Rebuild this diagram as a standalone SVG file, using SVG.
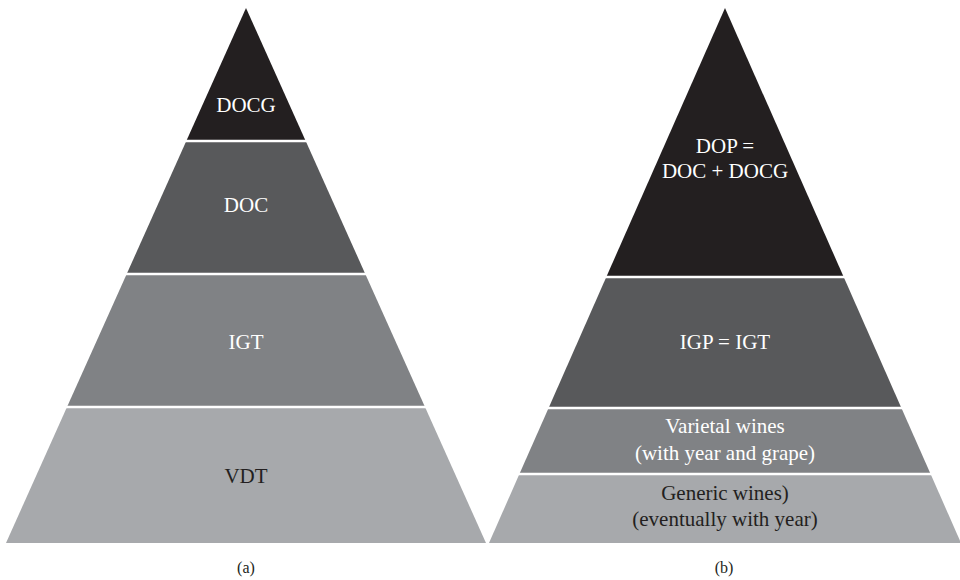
<svg xmlns="http://www.w3.org/2000/svg" width="960" height="580" viewBox="0 0 960 580">
<style>
.t{font-family:"Liberation Serif","Times New Roman",serif;font-size:21px;text-anchor:middle}
.w{fill:#ffffff}
.k{fill:#231f20}
.cap{font-family:"Liberation Serif","Times New Roman",serif;font-size:16px;text-anchor:middle;fill:#231f20}
.sep{stroke:#ffffff;stroke-width:2.5}
</style>
<rect width="960" height="580" fill="#ffffff"/>
<g id="pyramid-a">
  <g id="docg"><polygon points="246,8 305.7,141 186.3,141" fill="#231f20"/><text class="t w" x="246" y="112">DOCG</text></g>
  <g id="doc"><polygon points="186.3,141 305.7,141 365.3,274 126.7,274" fill="#58595b"/><text class="t w" x="246" y="212">DOC</text></g>
  <g id="igt"><polygon points="126.7,274 365.3,274 425,407 67,407" fill="#808285"/><text class="t w" x="246" y="349">IGT</text></g>
  <g id="vdt"><polygon points="67,407 425,407 486,543 6,543" fill="#a7a9ac"/><text class="t k" x="246" y="483">VDT</text></g>
</g>
<g id="pyramid-b">
  <g id="dop"><polygon points="725,8 843.7,277 606.3,277" fill="#231f20"/><text class="t w" x="725" y="153">DOP =</text><text class="t w" x="725" y="178">DOC + DOCG</text></g>
  <g id="igp"><polygon points="606.3,277 843.7,277 901.4,408 548.6,408" fill="#58595b"/><text class="t w" x="725" y="349">IGP = IGT</text></g>
  <g id="varietal"><polygon points="548.6,408 901.4,408 930.6,474 519.4,474" fill="#808285"/><text class="t w" x="725" y="433">Varietal wines</text><text class="t w" x="725" y="460">(with year and grape)</text></g>
  <g id="generic"><polygon points="519.4,474 930.6,474 961,543 489,543" fill="#a7a9ac"/><text class="t k" x="725" y="500">Generic wines)</text><text class="t k" x="725" y="526">(eventually with year)</text></g>
</g>
<g id="connectors">
  <line class="sep" x1="180" y1="141" x2="312" y2="141"/>
  <line class="sep" x1="120" y1="274" x2="372" y2="274"/>
  <line class="sep" x1="60" y1="407" x2="432" y2="407"/>
  <line class="sep" x1="600" y1="277" x2="850" y2="277"/>
  <line class="sep" x1="542" y1="408" x2="908" y2="408"/>
  <line class="sep" x1="512" y1="474" x2="938" y2="474"/>
</g>
<text class="cap" x="246" y="573">(a)</text>
<text class="cap" x="724" y="573">(b)</text>
</svg>
